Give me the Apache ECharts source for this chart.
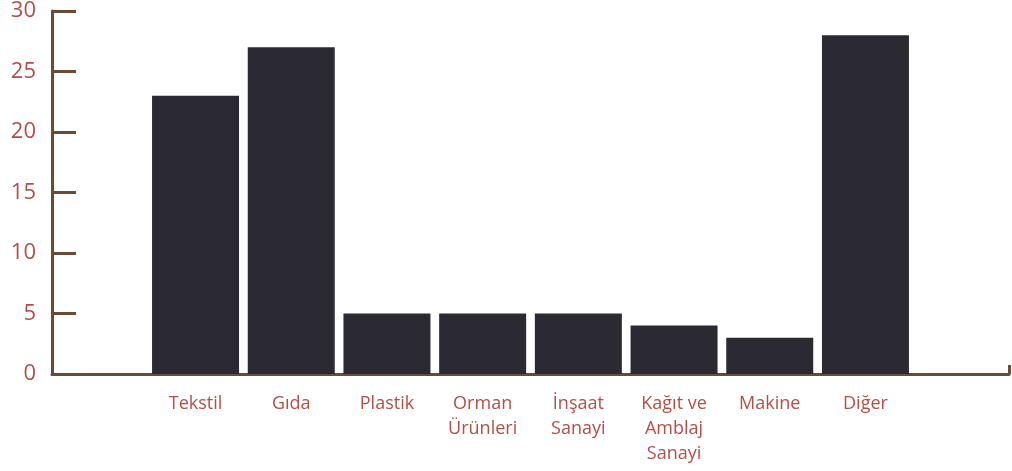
<!DOCTYPE html>
<html>
<head>
<meta charset="utf-8">
<script src="https://cdn.jsdelivr.net/npm/echarts@6/dist/echarts.min.js"></script>
<style>
html,body{margin:0;padding:0;background:#fff;}
#c{width:1012px;height:471px;}
</style>
</head>
<body>
<div id="c"></div>
<script>
const categories = ['', 'Tekstil', 'Gıda', 'Plastik', 'Orman\nÜrünleri', 'İnşaat\nSanayi', 'Kağıt ve\nAmblaj\nSanayi', 'Makine', 'Diğer', ''];
const values = [null, 23, 27, 5, 5, 5, 4, 3, 28, null];
const yTicks = { min: 0, max: 30, interval: 5 };

const axisColor = '#6b4a36';
const textColor = '#b24f47';
const barColor = '#2b2931';
const font = 'Open Sans';

const chart = echarts.init(document.getElementById('c'));
chart.setOption({
  animation: false,
  grid: { left: 52, right: 3, top: 10, bottom: 97, containLabel: false },
  xAxis: [{
    type: 'category',
    data: categories,
    axisLine: { show: true, lineStyle: { color: axisColor, width: 3 } },
    axisTick: { show: false },
    axisLabel: {
      interval: 0, color: textColor, fontFamily: font, fontSize: 18,
      lineHeight: 25, margin: 17, verticalAlign: 'top'
    },
    splitLine: { show: false }
  }, {
    type: 'value', position: 'bottom', min: 0, max: 10, interval: 10,
    axisLine: { show: false },
    axisTick: { show: true, inside: true, length: 9, lineStyle: { color: axisColor, width: 3 } },
    axisLabel: { show: false },
    splitLine: { show: false }
  }],
  yAxis: {
    type: 'value',
    min: yTicks.min, max: yTicks.max, interval: yTicks.interval,
    axisLine: { show: true, lineStyle: { color: axisColor, width: 3 } },
    axisTick: { show: true, inside: true, length: 24, lineStyle: { color: axisColor, width: 3 } },
    axisLabel: { color: textColor, fontFamily: font, fontSize: 22, margin: 16 },
    splitLine: { show: false }
  },
  series: [{
    type: 'bar',
    xAxisIndex: 0,
    data: values,
    barCategoryGap: '9.1%',
    itemStyle: { color: barColor },
    z: 3
  }]
});
</script>
</body>
</html>
